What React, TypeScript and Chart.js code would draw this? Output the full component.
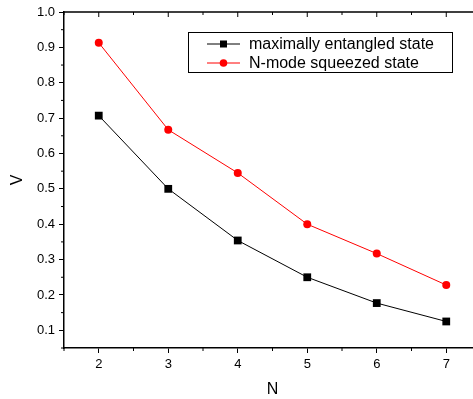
import React, { useEffect, useRef } from "react";
import { Chart, registerables } from "chart.js";

Chart.register(...registerables);

const categories = [2, 3, 4, 5, 6, 7];
const entangledValues = [0.707, 0.5, 0.354, 0.25, 0.177, 0.125];
const squeezedValues = [0.913, 0.667, 0.545, 0.4, 0.317, 0.228];
const seriesNames = ["maximally entangled state", "N-mode squeezed state"];
const xTickValues = [2, 3, 4, 5, 6, 7];
const xMinorValues = [1.5, 2.5, 3.5, 4.5, 5.5, 6.5, 7.5];
const yTickValues = [0.1, 0.2, 0.3, 0.4, 0.5, 0.6, 0.7, 0.8, 0.9, 1.0];
const yMinorValues = [0.05, 0.15, 0.25, 0.35, 0.45, 0.55, 0.65, 0.75, 0.85, 0.95];

const FONT = "'Liberation Sans', Arial, sans-serif";

const framePlugin = {
  id: "frame",
  afterDraw(chart: any) {
    const ctx = chart.ctx;
    const xs = chart.scales.x;
    const ys = chart.scales.y;
    const { left, right, top, bottom } = chart.chartArea;
    ctx.save();
    ctx.strokeStyle = "#000";
    ctx.lineWidth = 1.5;
    ctx.beginPath();
    ctx.moveTo(left, top);
    ctx.lineTo(right, top);
    ctx.lineTo(right, bottom);
    ctx.stroke();
    ctx.lineWidth = 1;
    ctx.beginPath();
    xMinorValues.forEach((v) => {
      const px = xs.getPixelForValue(v);
      ctx.moveTo(px, bottom);
      ctx.lineTo(px, bottom + 3);
    });
    xTickValues.forEach((v) => {
      const px = xs.getPixelForValue(v);
      ctx.moveTo(px, top);
      ctx.lineTo(px, top + 5);
    });
    xMinorValues.forEach((v) => {
      const px = xs.getPixelForValue(v);
      ctx.moveTo(px, top);
      ctx.lineTo(px, top + 3);
    });
    yMinorValues.forEach((v) => {
      const py = ys.getPixelForValue(v);
      ctx.moveTo(left, py);
      ctx.lineTo(left - 3, py);
    });
    yTickValues.forEach((v) => {
      const py = ys.getPixelForValue(v);
      ctx.moveTo(right, py);
      ctx.lineTo(right - 5, py);
    });
    ctx.stroke();

    // legend
    const bx = 188, by = 32, bw = 264, bh = 40;
    ctx.fillStyle = "#fff";
    ctx.fillRect(bx, by, bw, bh);
    ctx.strokeStyle = "#000";
    ctx.lineWidth = 1;
    ctx.strokeRect(bx + 0.5, by + 0.5, bw, bh);
    chart.data.datasets.forEach((ds: any, i: number) => {
      const cy = by + 12 + i * 19;
      ctx.strokeStyle = ds.borderColor;
      ctx.lineWidth = 1;
      ctx.beginPath();
      ctx.moveTo(207, cy);
      ctx.lineTo(240, cy);
      ctx.stroke();
      ctx.fillStyle = ds.pointBackgroundColor;
      if (ds.pointStyle === "rect") {
        ctx.fillRect(220, cy - 3.5, 7, 7);
      } else {
        ctx.beginPath();
        ctx.arc(223.5, cy, 3.8, 0, Math.PI * 2);
        ctx.fill();
      }
      ctx.fillStyle = "#000";
      ctx.font = `16px ${FONT}`;
      ctx.textBaseline = "middle";
      ctx.textAlign = "left";
      ctx.fillText(ds.label, 249, cy + 1);
    });
    ctx.restore();
  },
};

export default function App() {
  const ref = useRef<HTMLCanvasElement>(null);
  useEffect(() => {
    const canvas = ref.current!;
    const chart = new Chart(canvas, {
      type: "line",
      data: {
        datasets: [
          {
            label: seriesNames[0],
            data: categories.map((c, i) => ({ x: c, y: entangledValues[i] })),
            borderColor: "#000",
            backgroundColor: "#000",
            pointBackgroundColor: "#000",
            pointBorderColor: "#000",
            pointStyle: "rect",
            pointRadius: 5.5,
            borderWidth: 1,
            pointBorderWidth: 0,
          },
          {
            label: seriesNames[1],
            data: categories.map((c, i) => ({ x: c, y: squeezedValues[i] })),
            borderColor: "#ff0000",
            backgroundColor: "#ff0000",
            pointBackgroundColor: "#ff0000",
            pointBorderColor: "#ff0000",
            pointStyle: "circle",
            pointRadius: 4,
            borderWidth: 1,
            pointBorderWidth: 0,
          },
        ],
      },
      options: {
        animation: false,
        responsive: false,
        layout: { padding: { top: 12, right: 9, left: 0, bottom: 0 } },
        plugins: { legend: { display: false }, tooltip: { enabled: false } },
        scales: {
          x: {
            type: "linear",
            min: 1.5,
            max: 7.5,
            afterBuildTicks: (s: any) => {
              s.ticks = xTickValues.map((v) => ({ value: v }));
            },
            afterFit: (s: any) => {
              s.height = 51;
            },
            border: { display: true, color: "#000", width: 1.5 },
            grid: {
              display: true,
              drawOnChartArea: false,
              drawTicks: true,
              tickLength: 5,
              tickColor: "#000",
              tickWidth: 1,
            },
            ticks: {
              color: "#000",
              font: { family: FONT, size: 13 },
              padding: 4,
              maxRotation: 0,
              callback: (v: any) => String(v),
            },
            title: {
              display: true,
              text: "N",
              color: "#000",
              font: { family: FONT, size: 16 },
              padding: { top: 0, bottom: 0 },
            },
          },
          y: {
            type: "linear",
            min: 0.05,
            max: 1.0,
            afterBuildTicks: (s: any) => {
              s.ticks = yTickValues.map((v) => ({ value: v }));
            },
            afterFit: (s: any) => {
              s.width = 64;
            },
            border: { display: true, color: "#000", width: 1.5 },
            grid: {
              display: true,
              drawOnChartArea: false,
              drawTicks: true,
              tickLength: 5,
              tickColor: "#000",
              tickWidth: 1,
            },
            ticks: {
              color: "#000",
              font: { family: FONT, size: 13 },
              padding: 4,
              callback: (v: any) => Number(v).toFixed(1),
            },
            title: {
              display: true,
              text: "V",
              color: "#000",
              font: { family: FONT, size: 16 },
              padding: { top: 8, bottom: 0 },
            },
          },
        },
      },
      plugins: [framePlugin],
    } as any);
    return () => chart.destroy();
  }, []);
  return (
    <div
      style={{
        position: "fixed",
        left: 0,
        top: 0,
        width: 473,
        height: 399,
        overflow: "hidden",
        background: "#fff",
      }}
    >
      <canvas ref={ref} width={490} height={399} style={{ display: "block" }} />
    </div>
  );
}
